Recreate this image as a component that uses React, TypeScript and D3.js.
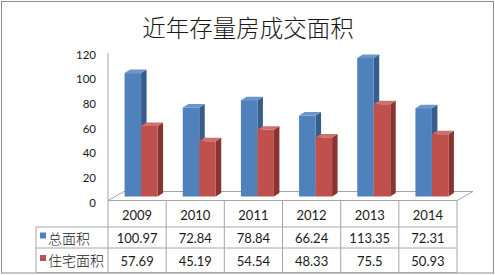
import React from "react";
import * as d3 from "d3";

const years = ["2009", "2010", "2011", "2012", "2013", "2014"];
const totalArea = [100.97, 72.84, 78.84, 66.24, 113.35, 72.31];
const residentialArea = [57.69, 45.19, 54.54, 48.33, 75.5, 50.93];
const totalLabels = ["100.97", "72.84", "78.84", "66.24", "113.35", "72.31"];
const residentialLabels = ["57.69", "45.19", "54.54", "48.33", "75.5", "50.93"];
const seriesNames = ["总面积", "住宅面积"];
const yTicks = [0, 20, 40, 60, 80, 100, 120];
const title = "近年存量房成交面积";

const W = 495;
const H = 275;

const colors = [
  { front: "#4F81BD", side: "#385D8A", top: "#6A96CC" },
  { front: "#C0504D", side: "#8A3431", top: "#D0706D" },
];

export default function App() {
  const plotLeft = 108;
  const plotRight = 457;
  const floorFront = 200.5;
  const floorDx = 16;
  const floorDy = -9;

  const x = d3.scaleBand<string>().domain(years).range([plotLeft, plotRight]).paddingInner(0).paddingOuter(0);
  const barBase = 196.5;
  const yBar = d3.scaleLinear().domain([0, 120]).range([barBase, barBase - 120 * 1.222]);
  const yAxis = d3.scaleLinear().domain([0, 120]).range([202, 54]);

  const barW = 16.5;
  const dDx = 5.5;
  const dDy = -3.5;
  const shift = 4;

  const rowTop = 227;
  const row2 = 248;
  const rowBottom = 272.5;
  const legendLeft = 36;
  const lineColor = "#A6A6A6";

  const series = [totalArea, residentialArea];
  const labels = [totalLabels, residentialLabels];

  const numFont = "Lato, 'Open Sans', sans-serif";
  const cjkFont = "'Noto Sans CJK SC', sans-serif";
  const textColor = "#1a1a1a";

  return (
    <svg width={W} height={H} style={{ position: "absolute", left: 0, top: 0 }}>
      <rect x={0} y={0} width={W} height={H} fill="#fff" />
      <rect x={1.5} y={1.5} width={492} height={271.5} fill="none" stroke="#8C8C8C" strokeWidth={1} />
      <text x={248} y={27} textAnchor="middle" dominantBaseline="central" fontFamily={cjkFont} fontWeight={300} fontSize={23.5} fill={textColor}>
        {title}
      </text>
      {/* floor */}
      <path
        d={`M${plotLeft},${floorFront} L${plotRight},${floorFront} L${plotRight + floorDx},${floorFront + floorDy} L${plotLeft + floorDx},${floorFront + floorDy} Z`}
        fill="#fff"
        stroke={lineColor}
        strokeWidth={1}
      />
      {/* vertical axis */}
      <line x1={plotLeft} x2={plotLeft} y1={53} y2={floorFront} stroke={lineColor} strokeWidth={1} />
      {yTicks.map((t) => (
        <text key={t} x={96} y={yAxis(t)} textAnchor="end" dominantBaseline="central" fontFamily={numFont} fontSize={11.5} fill={textColor}>
          {t}
        </text>
      ))}
      {/* bars */}
      {years.map((yr, i) => {
        const cx = (x(yr) as number) + x.bandwidth() / 2 + shift;
        return series.map((s, si) => {
          const x0 = cx - barW + si * barW;
          const x1 = x0 + barW;
          const yt = yBar(s[i]);
          const c = colors[si];
          return (
            <g key={yr + si}>
              <path
                d={`M${x1},${barBase} L${x1 + dDx},${barBase + dDy} L${x1 + dDx},${yt + dDy} L${x1},${yt} Z`}
                fill={c.side}
              />
              <path
                d={`M${x0},${yt} L${x1},${yt} L${x1 + dDx},${yt + dDy} L${x0 + dDx},${yt + dDy} Z`}
                fill={c.top}
              />
              <rect x={x0} y={yt} width={barW} height={barBase - yt} fill={c.front} />
            </g>
          );
        });
      })}
      {/* table */}
      <g stroke={lineColor} strokeWidth={1} fill="none">
        <line x1={legendLeft} x2={plotRight} y1={rowTop} y2={rowTop} />
        <line x1={legendLeft} x2={plotRight} y1={row2} y2={row2} />
        <line x1={legendLeft} x2={plotRight} y1={rowBottom} y2={rowBottom} />
        <line x1={legendLeft} x2={legendLeft} y1={rowTop} y2={rowBottom} />
        {years.map((yr) => (
          <line key={yr} x1={x(yr) as number} x2={x(yr) as number} y1={floorFront} y2={rowBottom} />
        ))}
        <line x1={plotRight} x2={plotRight} y1={floorFront} y2={rowBottom} />
      </g>
      {years.map((yr) => (
        <text key={yr} x={(x(yr) as number) + x.bandwidth() / 2} y={215} textAnchor="middle" dominantBaseline="central" fontFamily={numFont} fontSize={13} fill={textColor}>
          {yr}
        </text>
      ))}
      {labels.map((row, si) =>
        row.map((v, i) => (
          <text
            key={si + "-" + i}
            x={(x(years[i]) as number) + x.bandwidth() / 2}
            y={si === 0 ? 238 : 260.5}
            textAnchor="middle"
            dominantBaseline="central"
            fontFamily={numFont}
            fontSize={13}
            fill={textColor}
          >
            {v}
          </text>
        ))
      )}
      {seriesNames.map((n, si) => (
        <g key={n}>
          <rect x={40} y={si === 0 ? 232.5 : 255} width={6} height={6} fill={colors[si].front} />
          <text x={48} y={si === 0 ? 237.5 : 260} dominantBaseline="central" fontFamily={cjkFont} fontWeight={300} fontSize={14} fill={textColor}>
            {n}
          </text>
        </g>
      ))}
    </svg>
  );
}
